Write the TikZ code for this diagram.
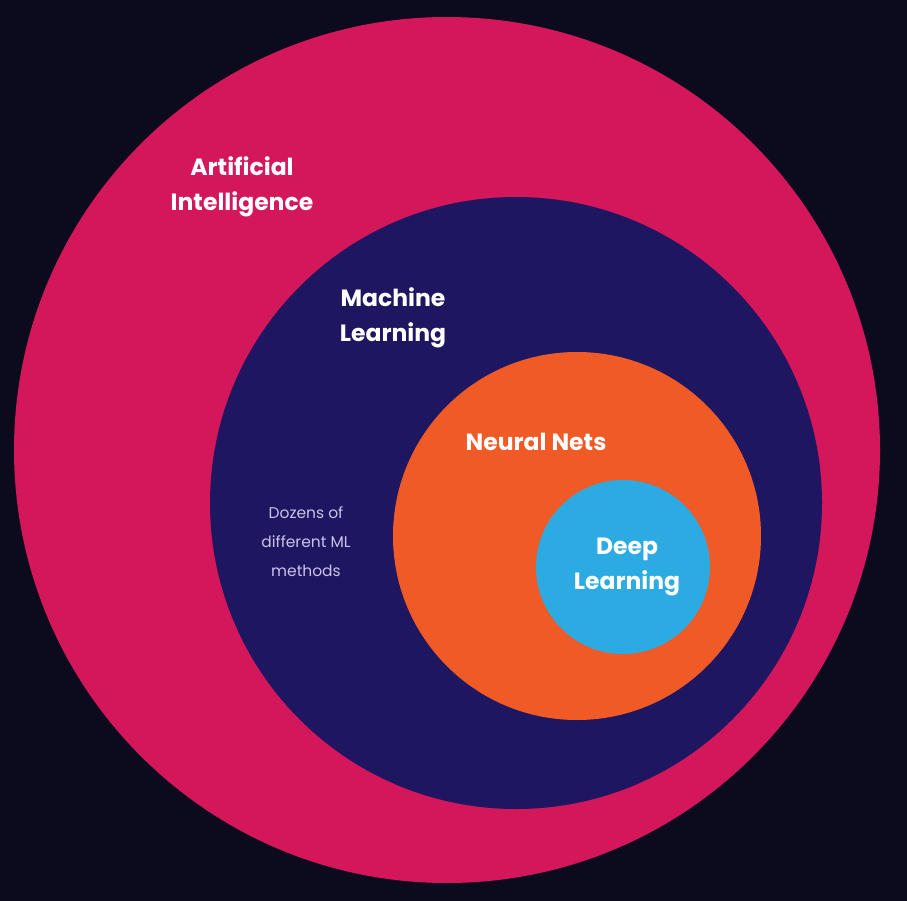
\documentclass[tikz,border=0pt]{standalone}
\usepackage{fontspec}
\setmainfont{Poppins}
\definecolor{bg}{HTML}{0C0B1E}
\definecolor{ai}{HTML}{D3175A}
\definecolor{ml}{HTML}{1E1660}
\definecolor{nn}{HTML}{EF5A26}
\definecolor{dl}{HTML}{2BABE2}
\definecolor{sm}{HTML}{C8C4E8}
\begin{document}
\begin{tikzpicture}[x=1pt,y=-1pt,
  circ/.style={circle,inner sep=0pt},
  big/.style={font=\fontsize{23.5}{35}\selectfont\bfseries,text=white,align=center},
  small/.style={font=\fontsize{15.5}{29}\selectfont,text=sm,align=center}]
\fill[bg] (0,0) rectangle (907,901);
\useasboundingbox (0,0) rectangle (907,901);
\node[circ,fill=ai,minimum size=866pt] (ai) at (447,450) {};
\node[circ,fill=ml,minimum size=612pt] (ml) at (516,503) {};
\node[circ,fill=nn,minimum size=368pt] (nn) at (577,536) {};
\node[circ,fill=dl,minimum size=174pt] (dl) at (623,567) {};
\node[big] (tai) at (242,187) {Artificial\\Intelligence};
\node[big] (tml) at (393,318) {Machine\\Learning};
\node[big] (tnn) at (536,442) {Neural Nets};
\node[big] (tdl) at (627,567) {Deep\\Learning};
\node[small] (tsm) at (306,542) {Dozens of\\different ML\\methods};
\end{tikzpicture}
\end{document}
